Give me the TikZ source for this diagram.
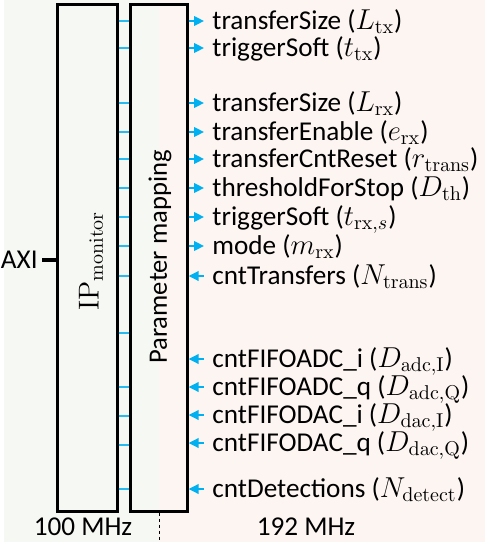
\documentclass[tikz,border=0pt]{standalone}
\usepackage[no-math]{fontspec}
\setmainfont{Carlito}
\usetikzlibrary{positioning,arrows.meta}
\definecolor{sigblue}{HTML}{00B0F0}
\definecolor{bgleft}{HTML}{F6F8F3}
\definecolor{bgright}{HTML}{FDF5F2}

\begin{document}
\begin{tikzpicture}[
  x=0.5pt, y=-0.5pt,
  blk/.style={draw, line width=1.35pt, minimum width=#1,
              minimum height=253.3pt, inner sep=0pt},
  lbl/.style={anchor=base west, inner sep=0pt, text depth=0.15em,
              font=\fontsize{13.6}{15}\selectfont},
  outarr/.style={-{Triangle[length=5pt,width=4.8pt]}, draw=sigblue, fill=sigblue, line width=1pt},
  inarr/.style={{Triangle[length=5pt,width=4.8pt]}-, draw=sigblue, fill=sigblue, line width=1pt},
  bus/.style={draw=sigblue!85, line width=0.6pt},
]
\useasboundingbox (0,0) rectangle (485,542);

%% Clock domains
\fill[bgleft]  (4,0)   rectangle (159,542);
\fill[bgright] (159,0) rectangle (485,542);

%% Blocks
\node[blk=29.9pt] (ipm) at (87.4,258) {};
\node[blk=28.3pt] (pm)  at (159,258)  {};
\node[rotate=90, font=\fontsize{14}{16}\selectfont] (ipmtxt) at (91,261) {$\mathrm{IP}_{\mathrm{monitor}}$};
\node[rotate=90, font=\fontsize{13.3}{15}\selectfont] (pmtxt) at (160,257) {Parameter mapping};

% AXI port
\node[lbl, anchor=base east] (axi) at (38,268) {AXI};
\draw[line width=2pt] (ipm.west |- 0,260) -- (42,260);

% register links between the blocks
\foreach \y in {21,48,103,132,159,188,217,246,276,333,387,416,445,489}
  \draw[bus] (ipm.east |- 0,\y) -- (pm.west |- 0,\y);

%% Outputs (control)
\foreach \y/\txt [count=\i] in {
    {21/{transferSize ($L_{\mathrm{tx}}$)}},
    {48/{triggerSoft ($t_{\mathrm{tx}}$)}},
    {103/{transferSize ($L_{\mathrm{rx}}$)}},
    {132/{transferEnable ($e_{\mathrm{rx}}$)}},
    {159/{transferCntReset ($r_{\mathrm{trans}}$)}},
    {188/{thresholdForStop ($D_{\mathrm{th}}$)}},
    {217/{triggerSoft ($t_{\mathrm{rx},s}$)}},
    {246/{mode ($m_{\mathrm{rx}}$)}}}{
  \node[lbl] (out\i) at (212,\y+8.5) {\txt};
  \draw[outarr] (pm.east |- 0,\y) -- (204,\y);
}

%% Inputs (status)
\foreach \y/\txt [count=\i] in {
    {276/{cntTransfers ($N_{\mathrm{trans}}$)}},
    {359/{cntFIFOADC\_i ($D_{\mathrm{adc,I}}$)}},
    {387/{cntFIFOADC\_q ($D_{\mathrm{adc,Q}}$)}},
    {415/{cntFIFODAC\_i ($D_{\mathrm{dac,I}}$)}},
    {443/{cntFIFODAC\_q ($D_{\mathrm{dac,Q}}$)}},
    {489/{cntDetections ($N_{\mathrm{detect}}$)}}}{
  \node[lbl] (in\i) at (212,\y+8.5) {\txt};
  \draw[inarr] (pm.east |- 0,\y) -- (204,\y);
}

%% Clock labels
\node[lbl, anchor=base] (clka) at (83,535)  {100 MHz};
\node[lbl, anchor=base] (clkb) at (306,535) {192 MHz};
\draw[line width=0.5pt, dash pattern=on 1.5pt off 1.5pt] (pm.south) -- (159,542);

\end{tikzpicture}
\end{document}
